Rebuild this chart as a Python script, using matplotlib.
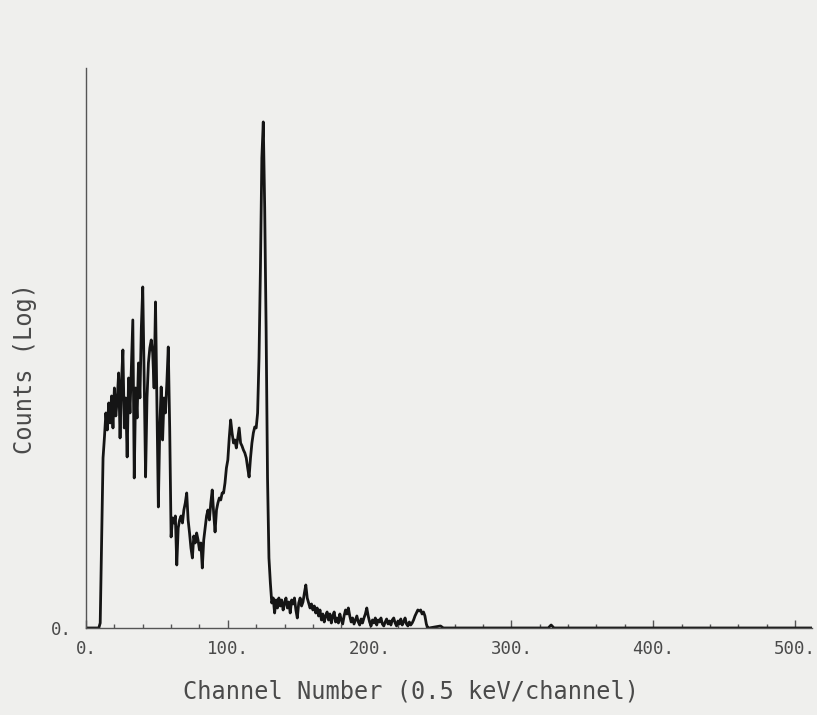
import matplotlib.pyplot as plt
import numpy as np

# canais e contagens (unidades arbitrarias, escala log do original)
canais = [0, 9, 10, 11, 12,
          13, 14, 15, 16, 17, 18, 19, 20, 21, 22, 23, 24, 25, 26, 27, 28, 29,
          30, 31, 32, 33, 34, 35, 36, 37, 38, 39, 40, 41, 42, 43, 44, 45, 46,
          47, 48, 49, 50, 51, 52, 53, 54, 55, 56, 57, 58, 59,
          60, 61, 62, 63, 64, 65, 66, 67, 68, 69, 70, 71, 72, 73, 74, 75, 76,
          77, 78, 79, 80, 81, 82, 83, 84, 85, 86, 87, 88, 89, 90, 91, 92, 93,
          94, 95, 96, 97, 98, 99, 100, 101, 102, 103, 104, 105, 106, 107, 108,
          109, 110, 111, 112, 113, 114, 115, 116, 117, 118, 119, 120, 121, 122,
          123, 124, 125, 126, 127, 128, 129,
          130, 131, 132, 133, 134, 135, 136, 137, 138, 139, 140, 141, 142, 143,
          144, 145, 146, 147, 148, 149, 150, 151, 152, 153, 154, 155, 156, 157,
          158, 159, 160, 161, 162, 163, 164, 165, 166, 167, 168, 169, 170, 171,
          172, 173, 174, 175, 176, 177, 178, 179, 180, 181, 182, 183, 184, 185,
          186, 187, 188, 189, 190, 191, 192, 193, 194, 195, 196, 197, 198, 199,
          200, 201, 202, 203, 204, 205, 206, 207, 208, 209, 210, 211, 212, 213,
          214, 215, 216, 217, 218, 219, 220, 221, 222, 223, 224, 225, 226, 227,
          228, 229, 230, 231, 232, 233, 234, 235, 236, 237, 238, 239, 240, 241,
          242, 250, 252, 260, 280, 300, 326, 328, 330, 350, 400, 450, 511]

contagens = [0, 0, 5, 90, 170,
             191, 215, 198, 225, 205, 232, 200, 240, 212, 228, 255, 190, 245,
             278, 200, 230, 171, 250, 215, 262, 308, 150, 240, 210, 265, 230,
             300, 341, 250, 151, 230, 265, 280, 288, 275, 240, 326, 220, 121,
             200, 241, 188, 230, 215, 245, 281, 200,
             91, 110, 105, 112, 63, 100, 108, 112, 105, 118, 125, 135, 108, 95,
             80, 70, 92, 85, 95, 88, 78, 85, 60, 88, 100, 112, 118, 108, 125,
             138, 115, 96, 118, 125, 130, 128, 135, 135, 145, 160, 168, 190,
             208, 195, 185, 188, 180, 190, 200, 185, 182, 178, 175, 170, 160,
             151, 170, 185, 195, 201, 200, 215, 270, 360, 470, 506, 420, 300,
             150, 70,
             45, 25, 30, 15, 28, 20, 30, 22, 28, 18, 25, 30, 20, 26, 15, 28, 24,
             30, 18, 10, 25, 30, 22, 26, 35, 43, 30, 25, 20, 24, 18, 22, 15, 20,
             12, 18, 8, 14, 6, 12, 16, 8, 14, 5, 12, 16, 6, 10, 5, 14, 8, 4, 12,
             18, 14, 20, 12, 6, 10, 4, 8, 12, 6, 3, 9, 5, 10, 14, 20, 12, 6, 2,
             8, 5, 10, 3, 8, 6, 10, 4, 2, 6, 9, 4, 7, 3, 8, 10, 5, 2, 7, 4, 9, 3,
             6, 10, 4, 2, 6, 3, 5, 8, 12, 15, 18, 17, 18, 14, 16, 12, 4, 0,
             0, 2, 0, 0, 0, 0, 0, 3, 0, 0, 0, 0, 0]

rotulos_x = ["0.", "100.", "200.", "300.", "400.", "500."]

fundo = '#efefed'
cor_texto = '#4a4a4a'

fig = plt.figure(figsize=(8.17, 7.15), dpi=100, facecolor=fundo)
ax = fig.add_axes([0.1053, 0.1217, 0.8886, 0.7833])
ax.set_facecolor(fundo)

ax.plot(canais, contagens, color='#151515', linewidth=2.0)

ax.set_xlim(0, 512)
ax.set_ylim(0, 560)

for lado in ['top', 'right']:
    ax.spines[lado].set_visible(False)
for lado in ['left', 'bottom']:
    ax.spines[lado].set_color('#555555')
    ax.spines[lado].set_linewidth(1.0)

# ticks para dentro, menores a cada 20 canais
ax.set_xticks(np.arange(0, 501, 100))
ax.set_xticklabels(rotulos_x)
ax.set_xticks(np.arange(0, 501, 20), minor=True)
ax.tick_params(axis='x', which='major', direction='in', length=6, width=1,
               color='#555555', pad=9, labelsize=12.5, labelcolor=cor_texto)
ax.tick_params(axis='x', which='minor', direction='in', length=3, width=1,
               color='#555555')
ax.set_yticks([0])
ax.set_yticklabels(["0."])
ax.tick_params(axis='y', which='major', length=0, pad=10, labelsize=12.5,
               labelcolor=cor_texto)
for lbl in ax.get_xticklabels() + ax.get_yticklabels():
    lbl.set_family('DejaVu Sans Mono')

ax.set_xlabel("Channel Number (0.5 keV/channel)", fontsize=17,
              family='DejaVu Sans Mono', color=cor_texto)
ax.set_ylabel("Counts (Log)", fontsize=17, family='DejaVu Sans Mono',
              color=cor_texto)
ax.xaxis.set_label_coords(0.448, -0.092)
ax.yaxis.set_label_coords(-0.067, 0.464)

plt.savefig('out.png', dpi=100, facecolor=fundo)
